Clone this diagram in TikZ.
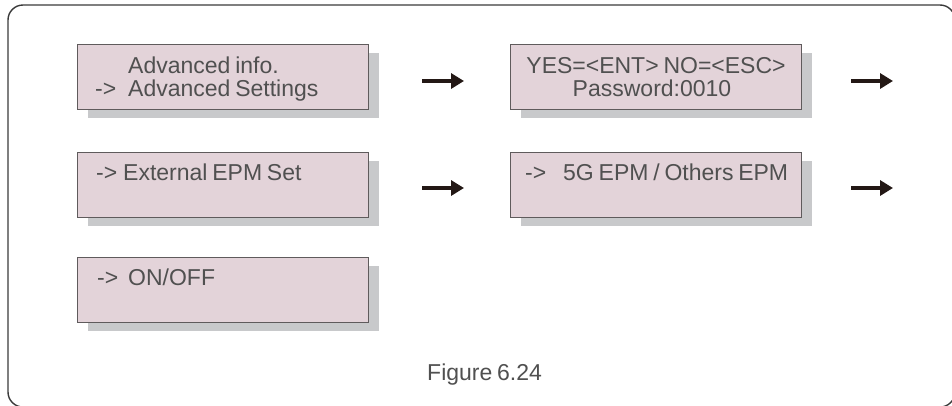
\documentclass[tikz,border=0pt]{standalone}
\usepackage{fontspec}
\setmainfont[WordSpace=0.75]{Liberation Sans}
\usetikzlibrary{arrows.meta}
\definecolor{boxfill}{HTML}{E3D3D9}
\definecolor{boxline}{HTML}{5F5B5C}
\definecolor{shadowc}{HTML}{C8C9CB}
\definecolor{txt}{HTML}{505050}
\definecolor{arrowc}{HTML}{231815}
\definecolor{framec}{HTML}{3A3A3A}
\tikzset{
  lcd/.style={draw=boxline, fill=boxfill, line width=1.3pt, rectangle, inner sep=0pt,
    minimum width=291pt, minimum height=65pt, anchor=north west},
  shadowbox/.style={fill=shadowc, draw=none, rectangle, inner sep=0pt,
    minimum width=291pt, minimum height=65pt, anchor=north west},
  lt/.style={text=txt, font=\fontsize{23}{25}\selectfont, inner sep=0pt, anchor=base west},
  ltc/.style={lt, anchor=base},
  nextarrow/.style={draw=arrowc, line width=4pt, -{Triangle[length=13pt,width=15pt]}},
}
\begin{document}
\begin{tikzpicture}[x=1pt, y=-1pt]
\useasboundingbox (0,0) rectangle (952,405);
\draw[framec, line width=1.4pt, rounded corners=15pt] (8,5) rectangle (955,407);
% shadows
\node[shadowbox] (s1) at (88,53) {};
\node[shadowbox] (s2) at (521,53) {};
\node[shadowbox] (s3) at (88,161) {};
\node[shadowbox] (s4) at (521,161) {};
\node[shadowbox] (s5) at (88,266) {};
% boxes
\node[lcd] (b1) at (77,44) {};
\node[lcd] (b2) at (510,44) {};
\node[lcd] (b3) at (77,152) {};
\node[lcd] (b4) at (510,152) {};
\node[lcd] (b5) at (77,257) {};
% texts
\node[lt] (t1a) at (128,73) {Advanced info.};
\node[lt] (t1b) at (95,96) {->};
\node[lt] (t1c) at (128,96) {Advanced Settings};
\node[ltc] (t2a) at (656,73) {YES=<ENT> NO=<ESC>};
\node[ltc] (t2b) at (652,96) {Password:0010};
\node[lt] (t3a) at (96,180) {->};
\node[lt] (t3b) at (123,180) {External EPM Set};
\node[lt] (t4a) at (525,180) {->};
\node[lt] (t4b) at (563,180) {5G EPM / Others EPM};
\node[lt] (t5a) at (97,285) {->};
\node[lt] (t5b) at (128,285) {ON/OFF};
\node[lt] (cap) at (427,380) {Figure 6.24};
% arrows
\coordinate (a1s) at (422,81); \coordinate (a1e) at (464,81);
\coordinate (a2s) at (851,81); \coordinate (a2e) at (893,81);
\coordinate (a3s) at (422,188); \coordinate (a3e) at (464,188);
\coordinate (a4s) at (851,188); \coordinate (a4e) at (893,188);
\draw[nextarrow] (a1s) -- (a1e);
\draw[nextarrow] (a2s) -- (a2e);
\draw[nextarrow] (a3s) -- (a3e);
\draw[nextarrow] (a4s) -- (a4e);
\end{tikzpicture}
\end{document}
